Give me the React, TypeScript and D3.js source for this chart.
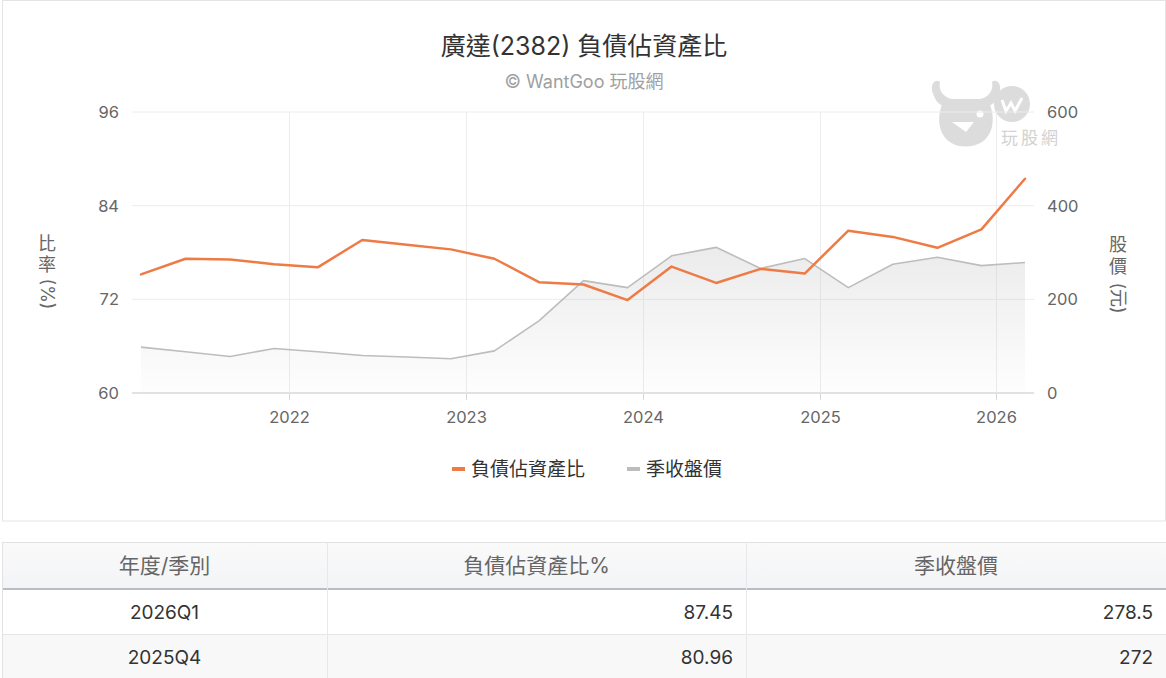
import React from "react";
import * as d3 from "d3";

const quarters = [
  "2021Q1","2021Q2","2021Q3","2021Q4",
  "2022Q1","2022Q2","2022Q3","2022Q4",
  "2023Q1","2023Q2","2023Q3","2023Q4",
  "2024Q1","2024Q2","2024Q3","2024Q4",
  "2025Q1","2025Q2","2025Q3","2025Q4",
  "2026Q1",
];
const debtRatio = [
  75.2, 77.2, 77.1, 76.5,
  76.1, 79.6, 79.0, 78.4,
  77.2, 74.2, 73.9, 71.9,
  76.2, 74.1, 75.9, 75.3,
  80.8, 80.0, 78.6, 80.96,
  87.45,
];
const closePrice = [
  98, 88, 78, 95,
  88, 80, 77, 73,
  90, 154, 240, 225,
  293, 311, 266, 287,
  225, 275, 290, 272,
  278.5,
];
const leftTicks = [60, 72, 84, 96];
const rightTicks = [0, 200, 400, 600];
const yearTicks = [2022, 2023, 2024, 2025, 2026];

const tableHeader = ["年度/季別", "負債佔資產比%", "季收盤價"];
const tableRows = [
  ["2026Q1", "87.45", "278.5"],
  ["2025Q4", "80.96", "272"],
];

const FONT = 'Inter, "Noto Sans CJK TC", sans-serif';
const ORANGE = "#EE7B45";
const GRAY = "#BDBDBD";

function quarterDate(q: string): Date {
  const y = +q.slice(0, 4);
  const n = +q.slice(5);
  return new Date(y, (n - 1) * 3 + 2, 1);
}

export default function App() {
  const W = 1166, H = 678;
  const plotL = 132, plotR = 1034, plotT = 112, plotB = 393;
  const dates = quarters.map(quarterDate);
  const x = d3.scaleTime().domain([dates[0], dates[dates.length - 1]]).range([141, 1025]);
  const yL = d3.scaleLinear().domain([60, 96]).range([plotB, plotT]);
  const yR = d3.scaleLinear().domain([0, 600]).range([plotB, plotT]);

  const ratioLine = d3.line<number>().x((_, i) => x(dates[i])).y((d) => yL(d))(debtRatio) || "";
  const priceLine = d3.line<number>().x((_, i) => x(dates[i])).y((d) => yR(d))(closePrice) || "";
  const priceArea = d3.area<number>().x((_, i) => x(dates[i])).y0(yR(0)).y1((d) => yR(d))(closePrice) || "";

  const cols = [2, 327, 746, 1166];
  const headT = 542, headB = 589, row1B = 634, rowH = 45;

  return (
    <svg width={W} height={H} style={{ position: "absolute", left: 0, top: 0, fontFamily: FONT }}>
      <defs>
        <linearGradient id="pg" x1="0" y1="0" x2="0" y2="1">
          <stop offset="0%" stopColor="#bdbdbd" stopOpacity={0.3} />
          <stop offset="100%" stopColor="#bdbdbd" stopOpacity={0.02} />
        </linearGradient>
        <linearGradient id="hg" x1="0" y1="0" x2="0" y2="1">
          <stop offset="0%" stopColor="#fafafa" />
          <stop offset="100%" stopColor="#f3f4f7" />
        </linearGradient>
      </defs>
      <rect x={0} y={0} width={W} height={H} fill="#fff" />
      {/* chart box */}
      <rect x={2.5} y={0.5} width={1163} height={520.5} fill="#fff" stroke="#e4e4e4" />

      {/* title */}
      <text x={584} y={55} textAnchor="middle" fontSize={25} fill="#333">廣達(2382) 負債佔資產比</text>
      <text x={584} y={88} textAnchor="middle" fontSize={18} fill="#a0a0a0">© WantGoo 玩股網</text>

      {/* watermark logo */}
      <g fill="#dcdcdc">
        <path d="M934,96 C928,84 936,78 940,82 C938,90 944,98 952,99 L980,99 C988,98 994,90 992,82 C996,78 1004,84 998,96 C995,104 990,106 986,106 L946,106 C942,106 937,104 934,96 Z" />
        <path d="M944,100 L988,100 C996,116 994,134 982,142 C972,148 958,148 950,142 C938,134 936,116 944,100 Z" />
        <circle cx={1012} cy={104} r={18} />
        <text x={1031} y={144} textAnchor="middle" fontSize={17} letterSpacing={3} fill="#d2d2d2">玩股網</text>
      </g>
      <g fill="#fff">
        <circle cx={980} cy={114} r={3.5} />
        <path d="M952,122 L974,122 L966,132 Z" />
        <path d="M1002,100 L1006,111 L1011,103 L1015,111 L1022,98" stroke="#fff" strokeWidth={3} fill="none" />
      </g>

      {/* horizontal grid */}
      {leftTicks.map((t) => (
        <line key={"h" + t} x1={plotL} x2={plotR} y1={yL(t)} y2={yL(t)} stroke={t === 60 ? "#d8d8d8" : "#ececec"} strokeWidth={t === 60 ? 1.5 : 1} />
      ))}
      {/* vertical grid */}
      {yearTicks.map((yr) => {
        const xx = Math.round(x(new Date(yr, 0, 1))) + 0.5;
        return (
          <g key={"v" + yr}>
            <line x1={xx} x2={xx} y1={plotT} y2={plotB} stroke="#ececec" />
            <line x1={xx} x2={xx} y1={plotB} y2={plotB + 7} stroke="#d8d8d8" />
            <text x={xx} y={423} textAnchor="middle" fontSize={16.5} fill="#666">{yr}</text>
          </g>
        );
      })}

      {/* axis labels */}
      {leftTicks.map((t) => (
        <text key={"l" + t} x={119} y={yL(t) + 6} textAnchor="end" fontSize={16.5} fill="#666">{t}</text>
      ))}
      {rightTicks.map((t) => (
        <text key={"r" + t} x={1047} y={yR(t) + 6} textAnchor="start" fontSize={16.5} fill="#666">{t}</text>
      ))}

      {/* axis titles */}
      <g fontSize={18} fill="#666">
        <text x={47} y={250} textAnchor="middle">比</text>
        <text x={47} y={271} textAnchor="middle">率</text>
        <text transform="translate(41,294) rotate(90)" textAnchor="middle">(%)</text>
        <text x={1118} y={251} textAnchor="middle">股</text>
        <text x={1118} y={273} textAnchor="middle">價</text>
        <text transform="translate(1112,298) rotate(90)" textAnchor="middle">(元)</text>
      </g>

      {/* series */}
      <path d={priceArea} fill="url(#pg)" />
      <path d={priceLine} fill="none" stroke={GRAY} strokeWidth={1.6} strokeLinejoin="round" />
      <path d={ratioLine} fill="none" stroke={ORANGE} strokeWidth={2.5} strokeLinejoin="round" strokeLinecap="round" />

      {/* legend */}
      <rect x={452} y={467} width={13} height={4} fill={ORANGE} />
      <text x={471} y={476} fontSize={19} fill="#333">負債佔資產比</text>
      <rect x={627} y={467} width={13} height={4} fill={GRAY} />
      <text x={646} y={476} fontSize={19} fill="#333">季收盤價</text>

      {/* table */}
      <rect x={cols[0]} y={headT} width={cols[3] - cols[0]} height={headB - headT} fill="url(#hg)" />
      <line x1={cols[0]} x2={cols[3]} y1={headT + 0.5} y2={headT + 0.5} stroke="#e2e2e2" />
      <rect x={cols[0]} y={headB} width={cols[3] - cols[0]} height={row1B - headB} fill="#fff" />
      <rect x={cols[0]} y={row1B} width={cols[3] - cols[0]} height={rowH + 10} fill="#f8f8f8" />
      <line x1={cols[0]} x2={cols[3]} y1={row1B + 0.5} y2={row1B + 0.5} stroke="#e6e6e6" />
      <line x1={cols[0]} x2={cols[3]} y1={headB} y2={headB} stroke="#babdc4" strokeWidth={2} />
      {cols.slice(0, 3).map((cx, i) => (
        <line key={"c" + i} x1={cx + 0.5} x2={cx + 0.5} y1={headT} y2={H} stroke={i === 0 ? "#e2e2e2" : "#e8e8ea"} />
      ))}
      {tableHeader.map((h, i) => (
        <text key={"th" + i} x={(cols[i] + cols[i + 1]) / 2} y={573} textAnchor="middle" fontSize={21} fill="#666">{h}</text>
      ))}
      {tableRows.map((r, ri) => (
        <g key={"tr" + ri} fontSize={19} fill="#333">
          <text x={(cols[0] + cols[1]) / 2} y={619 + ri * rowH} textAnchor="middle">{r[0]}</text>
          <text x={cols[2] - 13} y={619 + ri * rowH} textAnchor="end">{r[1]}</text>
          <text x={cols[3] - 13} y={619 + ri * rowH} textAnchor="end">{r[2]}</text>
        </g>
      ))}
    </svg>
  );
}
